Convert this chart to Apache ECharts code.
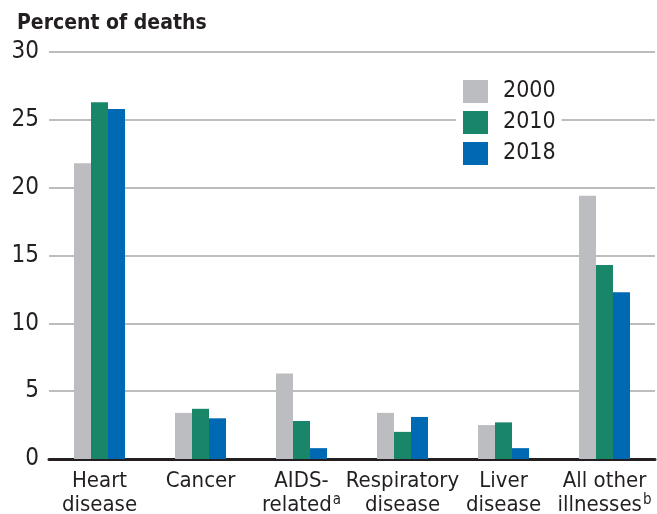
<!DOCTYPE html>
<html>
<head>
<meta charset="utf-8">
<script src="https://cdn.jsdelivr.net/npm/echarts@6/dist/echarts.min.js"></script>
<style>
  html, body { margin: 0; padding: 0; background: #fff; }
  #chart { width: 657px; height: 514px; }
</style>
</head>
<body>
<div id="chart"></div>
<script>
var FONT = '"DejaVu Sans Condensed", "Liberation Sans", sans-serif';
var INK = '#231f20';

// categories (with footnote markers)
var categories = ['Heart\ndisease', 'Cancer', 'AIDS-\nrelated', 'Respiratory\ndisease', 'Liver\ndisease', 'All other\nillnesses'];
var footnotes = ['', '', 'a', '', '', 'b'];

var years = ['2000', '2010', '2018'];
var values2000 = [21.8, 3.4, 6.3, 3.4, 2.5, 19.4];
var values2010 = [26.3, 3.7, 2.8, 2.0, 2.7, 14.3];
var values2018 = [25.8, 3.0, 0.8, 3.1, 0.8, 12.3];
var colors = ['#bcbdc0', '#1a8669', '#0069b4'];

var yTicks = { min: 0, max: 30, interval: 5 };

window.onload = function () {
    var myChart = echarts.init(document.getElementById('chart'));

    var allValues = [values2000, values2010, values2018];
    var series = years.map(function (y, i) {
        return {
            name: y,
            type: 'bar',
            data: allValues[i],
            barWidth: 17,
            barGap: '0%',
            itemStyle: { color: colors[i] }
        };
    });

    var option = {
        animation: false,
        title: {
            text: 'Percent of deaths',
            left: 12,
            top: 8,
            textStyle: { fontFamily: FONT, fontSize: 21, fontWeight: 'bold', color: INK }
        },
        legend: {
            data: years,
            orient: 'vertical',
            left: 456,
            top: 76,
            padding: [4, 6, 4, 7],
            backgroundColor: '#fff',
            itemWidth: 25,
            itemHeight: 23,
            itemGap: 8,
            icon: 'rect',
            textStyle: { fontFamily: FONT, fontSize: 23, color: INK, padding: [0, 0, 0, 10] }
        },
        grid: { left: 49, right: 2, top: 52, bottom: 55, outerBoundsMode: 'none', containLabel: false },
        xAxis: {
            type: 'category',
            data: categories,
            axisTick: { show: false },
            axisLine: { lineStyle: { color: INK, width: 3 } },
            axisLabel: {
                margin: 10,
                interval: 0,
                lineHeight: 24,
                fontFamily: FONT,
                fontSize: 22,
                color: INK,
                formatter: function (v, idx) {
                    var f = footnotes[idx];
                    return f ? '{t|' + v + '}{s|' + f + '}' : '{t|' + v + '}';
                },
                rich: {
                    t: { fontFamily: FONT, fontSize: 22, lineHeight: 24, color: INK },
                    s: { fontFamily: FONT, fontSize: 15, lineHeight: 24, color: INK, verticalAlign: 'top', padding: [0, 0, 10, 1] }
                }
            }
        },
        yAxis: {
            type: 'value',
            min: yTicks.min,
            max: yTicks.max,
            interval: yTicks.interval,
            axisLine: { show: false },
            axisTick: { show: false },
            axisLabel: { margin: 10, fontFamily: FONT, fontSize: 24, color: INK },
            splitLine: { lineStyle: { color: '#bdbdbd', width: 2 } }
        },
        series: series
    };

    myChart.setOption(option);
};
</script>
</body>
</html>
